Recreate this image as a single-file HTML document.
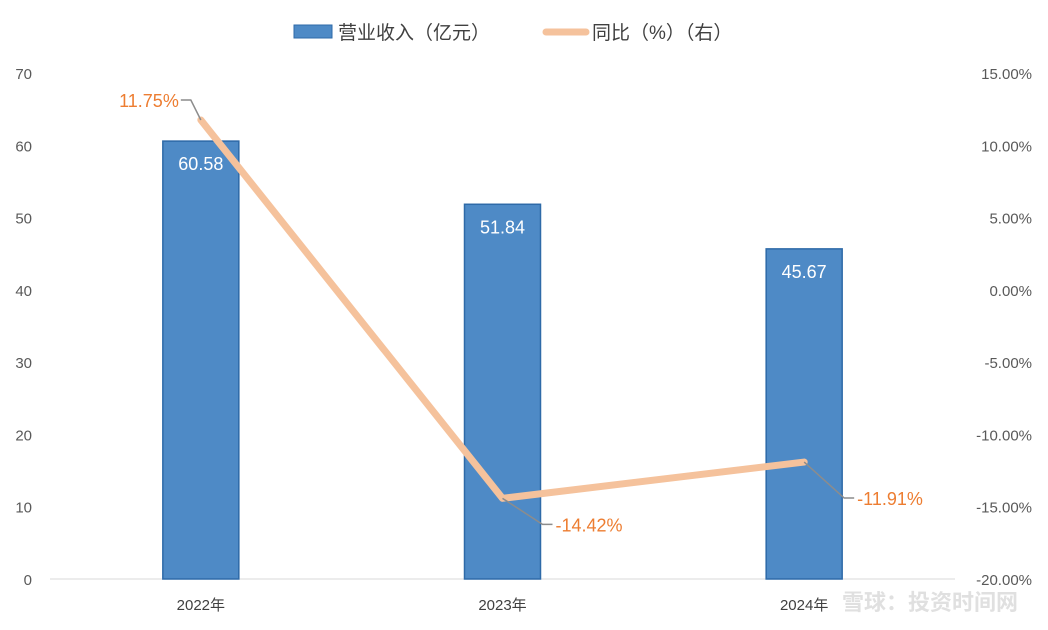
<!DOCTYPE html>
<html><head><meta charset="utf-8"><style>
body{margin:0;background:#fff}
svg{display:block;font-family:"Liberation Sans","Noto Sans CJK SC",sans-serif}
</style></head><body>
<svg id="c" width="1048" height="630"></svg>
<script>
const categories=["2022年","2023年","2024年"];
const revenue=[60.58,51.84,45.67];
const yoy=[11.75,-14.42,-11.91];
const leftTicks=[0,10,20,30,40,50,60,70];
const rightTicks=[-20,-15,-10,-5,0,5,10,15];
const svg=document.getElementById('c');
const NS="http://www.w3.org/2000/svg";
const y0=579,yTop=73,plotL=50,plotR=955;
const yL=v=>y0-(v/70)*(y0-yTop);
const yR=v=>y0-((v+20)/35)*(y0-yTop);
const xC=i=>plotL+(plotR-plotL)*(i+0.5)/categories.length+(i-1)*0;
function el(t,a,txt){const e=document.createElementNS(NS,t);for(const k in a)e.setAttribute(k,a[k]);if(txt!==undefined)e.textContent=txt;svg.appendChild(e);return e;}
// axis line
let ax=el('line',{x1:plotL,x2:plotR,y1:y0,y2:y0,stroke:'#d9d9d9','stroke-width':1});


leftTicks.forEach(v=>{const t=el('text',{x:32,y:yL(v)+6,'text-anchor':'end','font-size':15,fill:'#595959'},v);

});
rightTicks.forEach(v=>{const t=el('text',{x:1032,y:yR(v)+6,'text-anchor':'end','font-size':15,fill:'#595959'},v.toFixed(2)+'%');

});
const bw=76;
categories.forEach((c,i)=>{const x=xC(i);
const b=el('rect',{x:x-bw/2,y:yL(revenue[i]),width:bw,height:y0-yL(revenue[i]),fill:'#4e8ac6',stroke:'#2e6aa8','stroke-width':1.5});


const l=el('text',{x:x,y:yL(revenue[i])+29,'text-anchor':'middle','font-size':18,fill:'#fff'},revenue[i].toFixed(2));


const cl=el('text',{x:x,y:610,'text-anchor':'middle','font-size':15,fill:'#404040'},c);

});
const pts=yoy.map((v,i)=>[xC(i),yR(v)]);
const ln=el('polyline',{points:pts.map(p=>p.join(',')).join(' '),fill:'none',stroke:'#f5c29c','stroke-width':7,'stroke-linejoin':'round','stroke-linecap':'round'});


// leader lines and labels
const offs=[[-10,-20,'end'],[45,26,'start'],[45,36,'start']];
yoy.forEach((v,i)=>{const [px,py]=pts[i];const [dx,dy,anc]=offs[i];
let ex=px+dx-(i===0?0:0),ey=py+dy;
let pth=i===0?`M${px},${py} L${px-10},${py-20} L${px-20},${py-20}`:`M${px},${py} L${px+dx-5},${ey} L${px+dx+5},${ey}`;
const ld=el('path',{d:pth,fill:'none',stroke:'#8c8c8c','stroke-width':1.5});


const tx=i===0?px-22:px+dx+8;
const t=el('text',{x:tx,y:ey+7,'text-anchor':anc,'font-size':18,fill:'#ed7d31'},v.toFixed(2)+'%');

});
// legend
const lr=el('rect',{x:294,y:25,width:38,height:13,fill:'#4e8ac6',stroke:'#2e6aa8'});


const lt=el('text',{x:338,y:39,'font-size':19,fill:'#404040'},'营业收入（亿元）');


const ll=el('line',{x1:546,x2:586,y1:32,y2:32,stroke:'#f5c29c','stroke-width':7,'stroke-linecap':'round'});


const lt2=el('text',{x:592,y:39,'font-size':19,fill:'#404040'},'同比（%）（右）');


const wm=el('text',{x:1018,y:610,'text-anchor':'end','font-size':22,fill:'#e0e0e0','font-weight':'bold'},'雪球：投资时间网');


</script>
</body></html>
